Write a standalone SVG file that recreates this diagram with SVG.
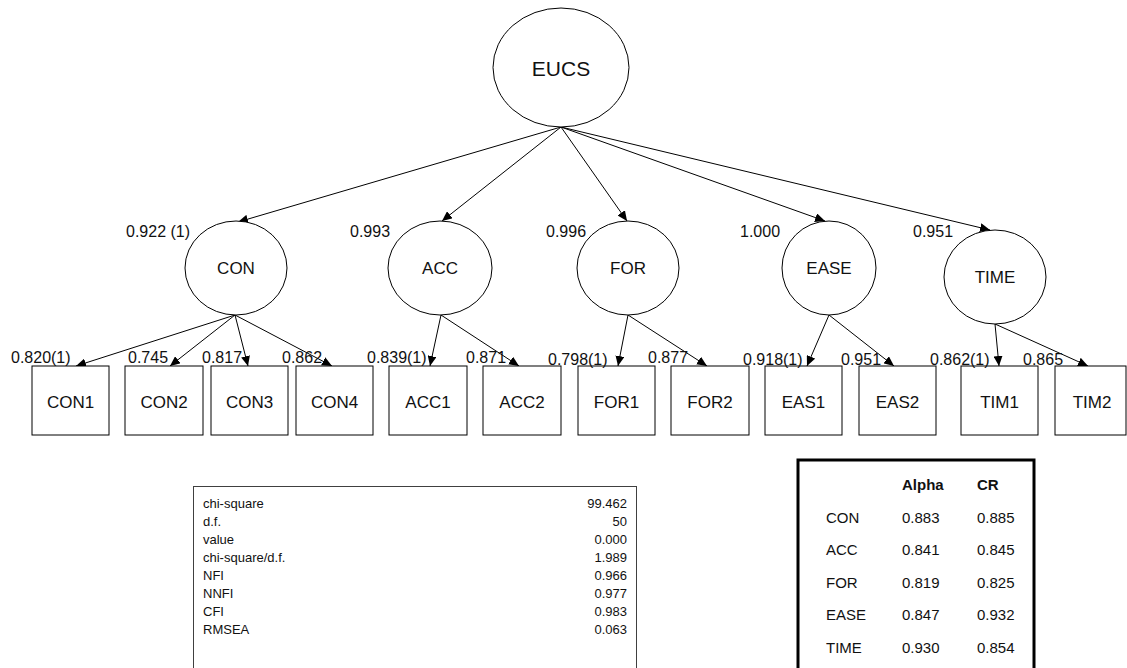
<svg xmlns="http://www.w3.org/2000/svg" width="1127" height="668" viewBox="0 0 1127 668">
<defs>
<marker id="ah" markerWidth="11" markerHeight="9" refX="10" refY="4.5" orient="auto" markerUnits="userSpaceOnUse">
<path d="M0,0 L10,4.5 L0,9 z" fill="#000"/>
</marker>
<style>
text{font-family:"Liberation Sans",Arial,sans-serif;fill:#111}
.node{fill:#fff;stroke:#000;stroke-width:1}
.lat{font-size:17px;text-anchor:middle}
.top{font-size:21px;text-anchor:middle}
.ind{font-size:17px;text-anchor:middle}
.ld{font-size:16px}
.edge{stroke:#000;stroke-width:1;fill:none;marker-end:url(#ah)}
.fit{font-size:13px}
.fitv{font-size:13px;text-anchor:end}
.rel{font-size:15px}
.relh{font-size:15px;font-weight:bold}
</style>
</defs>
<rect width="1127" height="668" fill="#fff"/>

<g id="connectors">
<line class="edge" x1="561" y1="127" x2="238" y2="222"/>
<line class="edge" x1="561" y1="127" x2="442" y2="221"/>
<line class="edge" x1="561" y1="127" x2="627" y2="221"/>
<line class="edge" x1="561" y1="127" x2="825" y2="221"/>
<line class="edge" x1="561" y1="127" x2="990" y2="230"/>
<line class="edge" x1="235" y1="315" x2="76" y2="366"/>
<line class="edge" x1="235" y1="315" x2="170" y2="366"/>
<line class="edge" x1="235" y1="315" x2="248" y2="366"/>
<line class="edge" x1="235" y1="315" x2="332" y2="366"/>
<line class="edge" x1="441" y1="315" x2="430" y2="366"/>
<line class="edge" x1="441" y1="315" x2="519" y2="366"/>
<line class="edge" x1="628" y1="315" x2="618" y2="366"/>
<line class="edge" x1="628" y1="315" x2="707" y2="366"/>
<line class="edge" x1="829" y1="315" x2="807" y2="366"/>
<line class="edge" x1="829" y1="315" x2="894" y2="366"/>
<line class="edge" x1="995" y1="324" x2="999" y2="366"/>
<line class="edge" x1="995" y1="324" x2="1088" y2="366"/>
</g>

<g id="EUCS"><ellipse class="node" cx="561" cy="67.5" rx="68" ry="59.5"/><text class="top" x="561" y="76">EUCS</text></g>

<g id="CON"><ellipse class="node" cx="236" cy="268" rx="51" ry="47"/><text class="lat" x="236" y="274">CON</text><text class="ld" x="126" y="237">0.922 (1)</text></g>
<g id="ACC"><ellipse class="node" cx="440" cy="268" rx="52" ry="47"/><text class="lat" x="440" y="274">ACC</text><text class="ld" x="350" y="237">0.993</text></g>
<g id="FOR"><ellipse class="node" cx="628" cy="268" rx="51" ry="47"/><text class="lat" x="628" y="274">FOR</text><text class="ld" x="546" y="237">0.996</text></g>
<g id="EASE"><ellipse class="node" cx="829" cy="268" rx="47" ry="47"/><text class="lat" x="829" y="274">EASE</text><text class="ld" x="740" y="237">1.000</text></g>
<g id="TIME"><ellipse class="node" cx="995" cy="277" rx="51" ry="47"/><text class="lat" x="995" y="283">TIME</text><text class="ld" x="913" y="237">0.951</text></g>

<g id="CON1"><rect class="node" x="32" y="366" width="77" height="69"/><text class="ind" x="70.5" y="408">CON1</text><text class="ld" x="11" y="363">0.820(1)</text></g>
<g id="CON2"><rect class="node" x="125" y="366" width="78" height="69"/><text class="ind" x="164" y="408">CON2</text><text class="ld" x="128" y="363">0.745</text></g>
<g id="CON3"><rect class="node" x="211" y="366" width="77" height="69"/><text class="ind" x="249.5" y="408">CON3</text><text class="ld" x="202" y="363">0.817</text></g>
<g id="CON4"><rect class="node" x="296" y="366" width="77" height="69"/><text class="ind" x="334.5" y="408">CON4</text><text class="ld" x="282" y="363">0.862</text></g>
<g id="ACC1"><rect class="node" x="389" y="366" width="78" height="69"/><text class="ind" x="428" y="408">ACC1</text><text class="ld" x="367" y="363">0.839(1)</text></g>
<g id="ACC2"><rect class="node" x="483" y="366" width="78" height="69"/><text class="ind" x="522" y="408">ACC2</text><text class="ld" x="466" y="363">0.871</text></g>
<g id="FOR1"><rect class="node" x="578" y="366" width="77" height="69"/><text class="ind" x="616.5" y="408">FOR1</text><text class="ld" x="548" y="365">0.798(1)</text></g>
<g id="FOR2"><rect class="node" x="671" y="366" width="78" height="69"/><text class="ind" x="710" y="408">FOR2</text><text class="ld" x="648" y="363">0.877</text></g>
<g id="EAS1"><rect class="node" x="765" y="366" width="77" height="69"/><text class="ind" x="803.5" y="408">EAS1</text><text class="ld" x="743" y="365">0.918(1)</text></g>
<g id="EAS2"><rect class="node" x="859" y="366" width="77" height="69"/><text class="ind" x="897.5" y="408">EAS2</text><text class="ld" x="841" y="365">0.951</text></g>
<g id="TIM1"><rect class="node" x="961" y="366" width="77" height="69"/><text class="ind" x="999.5" y="408">TIM1</text><text class="ld" x="930" y="365">0.862(1)</text></g>
<g id="TIM2"><rect class="node" x="1055" y="366" width="71" height="69"/><text class="ind" x="1092" y="408">TIM2</text><text class="ld" x="1023" y="365">0.865</text></g>

<g id="fit-table">
<rect x="193.5" y="486.5" width="443" height="200" fill="#fff" stroke="#404040" stroke-width="1"/>
<text class="fit" x="203" y="508">chi-square</text><text class="fitv" x="627" y="508">99.462</text>
<text class="fit" x="203" y="526">d.f.</text><text class="fitv" x="627" y="526">50</text>
<text class="fit" x="203" y="544">value</text><text class="fitv" x="627" y="544">0.000</text>
<text class="fit" x="203" y="562">chi-square/d.f.</text><text class="fitv" x="627" y="562">1.989</text>
<text class="fit" x="203" y="580">NFI</text><text class="fitv" x="627" y="580">0.966</text>
<text class="fit" x="203" y="598">NNFI</text><text class="fitv" x="627" y="598">0.977</text>
<text class="fit" x="203" y="616">CFI</text><text class="fitv" x="627" y="616">0.983</text>
<text class="fit" x="203" y="634">RMSEA</text><text class="fitv" x="627" y="634">0.063</text>
</g>

<g id="reliability-table">
<rect x="798" y="460" width="236" height="230" fill="#fff" stroke="#000" stroke-width="3"/>
<text class="relh" x="902" y="490">Alpha</text><text class="relh" x="977" y="490">CR</text>
<text class="rel" x="826" y="523">CON</text><text class="rel" x="902" y="523">0.883</text><text class="rel" x="977" y="523">0.885</text>
<text class="rel" x="826" y="555">ACC</text><text class="rel" x="902" y="555">0.841</text><text class="rel" x="977" y="555">0.845</text>
<text class="rel" x="826" y="588">FOR</text><text class="rel" x="902" y="588">0.819</text><text class="rel" x="977" y="588">0.825</text>
<text class="rel" x="826" y="620">EASE</text><text class="rel" x="902" y="620">0.847</text><text class="rel" x="977" y="620">0.932</text>
<text class="rel" x="826" y="653">TIME</text><text class="rel" x="902" y="653">0.930</text><text class="rel" x="977" y="653">0.854</text>
</g>
</svg>
